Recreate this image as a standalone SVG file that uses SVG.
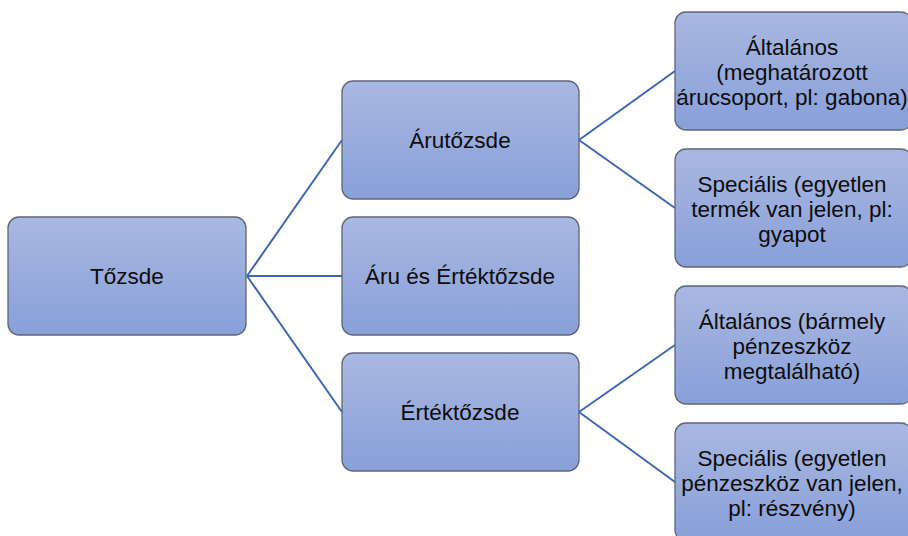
<svg xmlns="http://www.w3.org/2000/svg" width="908" height="536" viewBox="0 0 908 536">
  <defs>
    <linearGradient id="boxFill" x1="0" y1="0" x2="0" y2="1">
      <stop offset="0" stop-color="#a9b8e1"/>
      <stop offset="1" stop-color="#889fd8"/>
    </linearGradient>
    <style>
      .box { fill: url(#boxFill); stroke: #5d6677; stroke-width: 1.3; }
      .lbl { font-family: "Liberation Sans", Arial, sans-serif; font-size: 22.5px; fill: #0d0d0d; text-anchor: middle; }
      .edge { stroke: #4066b3; stroke-width: 2; fill: none; }
    </style>
  </defs>
  <rect width="908" height="536" fill="#ffffff"/>

  <g id="connectors">
    <path class="edge" d="M247 276 L342 140 M247 276 L342 276 M247 276 L342 412"/>
    <path class="edge" d="M579 140 L675 71 M579 140 L675 208"/>
    <path class="edge" d="M579 412 L675 345 M579 412 L675 482"/>
  </g>

  <g id="tozsde">
    <rect class="box" x="8" y="217" width="238" height="118" rx="11"/>
    <text class="lbl" x="127" y="284">Tőzsde</text>
  </g>

  <g id="arutozsde">
    <rect class="box" x="342" y="81" width="237" height="118" rx="11"/>
    <text class="lbl" x="460" y="148">Árutőzsde</text>
  </g>

  <g id="aru-es-ertektozsde">
    <rect class="box" x="342" y="217" width="237" height="118" rx="11"/>
    <text class="lbl" x="460" y="284">Áru és Értéktőzsde</text>
  </g>

  <g id="ertektozsde">
    <rect class="box" x="342" y="353" width="237" height="118" rx="11"/>
    <text class="lbl" x="460" y="420">Értéktőzsde</text>
  </g>

  <g id="aru-altalanos">
    <rect class="box" x="675" y="12" width="237" height="118" rx="11"/>
    <text class="lbl" x="792" y="55">Általános</text>
    <text class="lbl" x="792" y="80">(meghatározott</text>
    <text class="lbl" x="792" y="105">árucsoport, pl: gabona)</text>
  </g>

  <g id="aru-specialis">
    <rect class="box" x="675" y="149" width="237" height="118" rx="11"/>
    <text class="lbl" x="792" y="192">Speciális (egyetlen</text>
    <text class="lbl" x="792" y="217">termék van jelen, pl:</text>
    <text class="lbl" x="792" y="242">gyapot</text>
  </g>

  <g id="ertek-altalanos">
    <rect class="box" x="675" y="286" width="237" height="118" rx="11"/>
    <text class="lbl" x="792" y="329">Általános (bármely</text>
    <text class="lbl" x="792" y="354">pénzeszköz</text>
    <text class="lbl" x="792" y="379">megtalálható)</text>
  </g>

  <g id="ertek-specialis">
    <rect class="box" x="675" y="423" width="237" height="118" rx="11"/>
    <text class="lbl" x="792" y="466">Speciális (egyetlen</text>
    <text class="lbl" x="792" y="491">pénzeszköz van jelen,</text>
    <text class="lbl" x="792" y="516">pl: részvény)</text>
  </g>
</svg>
